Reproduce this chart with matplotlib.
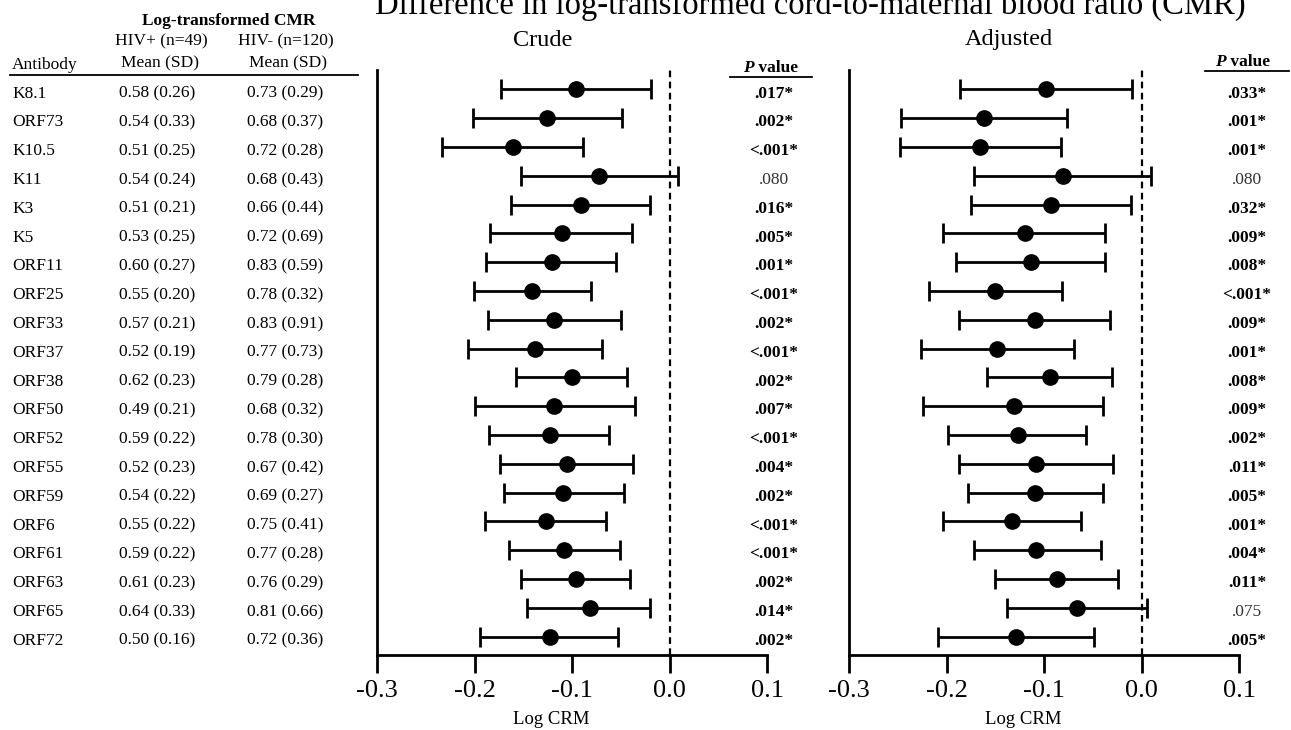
import matplotlib
matplotlib.use("Agg")
import matplotlib.pyplot as plt
import matplotlib.transforms as mtransforms

plt.rcParams['font.family'] = ['Liberation Serif', 'DejaVu Serif']

antibodies = ["K8.1", "ORF73", "K10.5", "K11", "K3", "K5", "ORF11", "ORF25", "ORF33", "ORF37",
              "ORF38", "ORF50", "ORF52", "ORF55", "ORF59", "ORF6", "ORF61", "ORF63", "ORF65", "ORF72"]
hiv_pos = ["0.58 (0.26)", "0.54 (0.33)", "0.51 (0.25)", "0.54 (0.24)", "0.51 (0.21)",
           "0.53 (0.25)", "0.60 (0.27)", "0.55 (0.20)", "0.57 (0.21)", "0.52 (0.19)",
           "0.62 (0.23)", "0.49 (0.21)", "0.59 (0.22)", "0.52 (0.23)", "0.54 (0.22)",
           "0.55 (0.22)", "0.59 (0.22)", "0.61 (0.23)", "0.64 (0.33)", "0.50 (0.16)"]
hiv_neg = ["0.73 (0.29)", "0.68 (0.37)", "0.72 (0.28)", "0.68 (0.43)", "0.66 (0.44)",
           "0.72 (0.69)", "0.83 (0.59)", "0.78 (0.32)", "0.83 (0.91)", "0.77 (0.73)",
           "0.79 (0.28)", "0.68 (0.32)", "0.78 (0.30)", "0.67 (0.42)", "0.69 (0.27)",
           "0.75 (0.41)", "0.77 (0.28)", "0.76 (0.29)", "0.81 (0.66)", "0.72 (0.36)"]

crude_est = [-0.096, -0.126, -0.161, -0.072, -0.091, -0.110, -0.121, -0.141, -0.118, -0.138,
             -0.100, -0.118, -0.123, -0.105, -0.109, -0.127, -0.108, -0.096, -0.082, -0.123]
crude_lo = [-0.173, -0.202, -0.233, -0.152, -0.163, -0.184, -0.188, -0.201, -0.186, -0.207,
            -0.157, -0.200, -0.185, -0.174, -0.170, -0.189, -0.165, -0.152, -0.146, -0.194]
crude_hi = [-0.019, -0.049, -0.089, 0.009, -0.020, -0.038, -0.055, -0.081, -0.050, -0.069,
            -0.044, -0.035, -0.062, -0.037, -0.047, -0.065, -0.051, -0.041, -0.020, -0.053]
crude_p = [".017*", ".002*", "<.001*", ".080", ".016*", ".005*", ".001*", "<.001*", ".002*", "<.001*",
           ".002*", ".007*", "<.001*", ".004*", ".002*", "<.001*", "<.001*", ".002*", ".014*", ".002*"]

adj_est = [-0.098, -0.162, -0.166, -0.081, -0.093, -0.120, -0.113, -0.150, -0.109, -0.148,
           -0.094, -0.131, -0.127, -0.108, -0.109, -0.133, -0.108, -0.087, -0.066, -0.129]
adj_lo = [-0.186, -0.247, -0.248, -0.172, -0.175, -0.204, -0.190, -0.218, -0.187, -0.226,
          -0.158, -0.224, -0.198, -0.187, -0.178, -0.204, -0.172, -0.150, -0.138, -0.209]
adj_hi = [-0.010, -0.076, -0.083, 0.010, -0.011, -0.037, -0.037, -0.082, -0.032, -0.069,
          -0.030, -0.039, -0.057, -0.029, -0.040, -0.062, -0.042, -0.024, 0.006, -0.049]
adj_p = [".033*", ".001*", ".001*", ".080", ".032*", ".009*", ".008*", "<.001*", ".009*", ".001*",
         ".008*", ".009*", ".002*", ".011*", ".005*", ".001*", ".004*", ".011*", ".075", ".005*"]

W, H = 1291, 730
fig = plt.figure(figsize=(W / 100, H / 100), dpi=100)


def fx(px):
    return px / W


def fy(py):
    return 1 - py / H


rows = list(range(len(antibodies)))


def forest(ax, est, lo, hi):
    xerr = [[e - l for e, l in zip(est, lo)], [h - e for e, h in zip(est, hi)]]
    ax.errorbar(est, rows, xerr=xerr, fmt='o', color='black', ms=11,
                elinewidth=2, capsize=7, capthick=2)
    ax.axvline(0, color='black', ls=(0, (3, 2)), lw=1.6)
    ax.set_xlim(-0.3, 0.1)
    ax.set_ylim(19.64, -0.67)
    ax.set_xticks([-0.3, -0.2, -0.1, 0.0, 0.1])
    ax.set_xticklabels(["-0.3", "-0.2", "-0.1", "0.0", "0.1"])
    ax.set_yticks([])
    for s in ['top', 'right']:
        ax.spines[s].set_visible(False)
    for s in ['left', 'bottom']:
        ax.spines[s].set_linewidth(2)
    ax.tick_params(axis='x', length=13, width=2, labelsize=19, pad=5)


ax1 = fig.add_axes([fx(377), fy(655), 390 / W, 585 / H])
ax2 = fig.add_axes([fx(849), fy(655), 390 / W, 585 / H])
forest(ax1, crude_est, crude_lo, crude_hi)
forest(ax2, adj_est, adj_lo, adj_hi)

fig.text(fx(551), fy(724), "Log CRM", ha='center', va='baseline', fontsize=13.5)
fig.text(fx(1023), fy(724), "Log CRM", ha='center', va='baseline', fontsize=13.5)

# table and p values share the row scale of the plots
tr = mtransforms.blended_transform_factory(fig.transFigure, ax1.transData)
for i, name in enumerate(antibodies):
    y = i + 0.15
    fig.text(fx(12), y, name, transform=tr, ha='left', va='center', fontsize=12.5)
    fig.text(fx(157), y, hiv_pos[i], transform=tr, ha='center', va='center', fontsize=12.5)
    fig.text(fx(285), y, hiv_neg[i], transform=tr, ha='center', va='center', fontsize=12.5)
    for px, p in [(774, crude_p[i]), (1247, adj_p[i])]:
        bold = p.endswith('*')
        fig.text(fx(px), y, p, transform=tr, ha='center', va='center', fontsize=12.5,
                 fontweight='bold' if bold else 'normal', color='black' if bold else '#333333')

# table header
fig.text(fx(229), fy(21), "Log-transformed CMR", ha='center', va='center',
         fontsize=12.5, fontweight='bold')
fig.text(fx(161), fy(41), "HIV+ (n=49)", ha='center', va='center', fontsize=12.5)
fig.text(fx(286), fy(41), "HIV- (n=120)", ha='center', va='center', fontsize=12.5)
fig.text(fx(160), fy(63), "Mean (SD)", ha='center', va='center', fontsize=12.5)
fig.text(fx(288), fy(63), "Mean (SD)", ha='center', va='center', fontsize=12.5)
fig.text(fx(12), fy(65), "Antibody", ha='left', va='center', fontsize=12.5)
fig.add_artist(plt.Line2D([fx(10), fx(358)], [fy(75), fy(75)], color='black', lw=1.3))

# p value headers
for px, py, x0, x1 in [(754, 68, 730, 812), (1226, 62, 1205, 1289)]:
    fig.text(fx(px), fy(py), "P", ha='right', va='center', fontsize=12.5,
             fontweight='bold', fontstyle='italic')
    fig.text(fx(px), fy(py), " value", ha='left', va='center', fontsize=12.5, fontweight='bold')
    fig.add_artist(plt.Line2D([fx(x0), fx(x1)], [fy(py + 9), fy(py + 9)], color='black', lw=1.3))

# titles
fig.text(fx(543), fy(40), "Crude", ha='center', va='center', fontsize=17.5)
fig.text(fx(1009), fy(40), "Adjusted", ha='center', va='center', fontsize=17.5)
fig.text(fx(810), fy(14), "Difference in log-transformed cord-to-maternal blood ratio (CMR)",
         ha='center', va='baseline', fontsize=23.5)

fig.savefig("out.png", dpi=100)
